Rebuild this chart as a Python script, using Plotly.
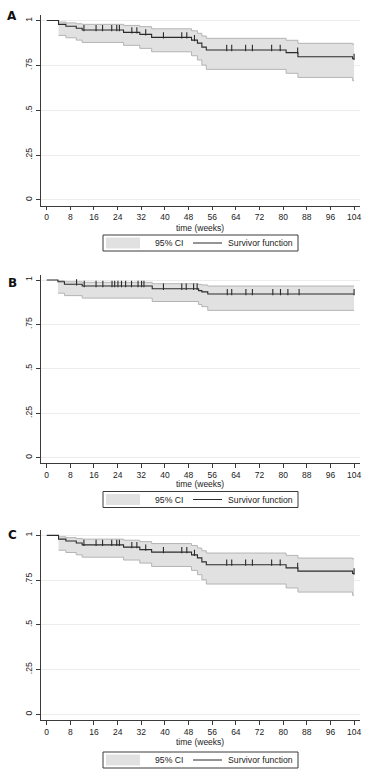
import plotly.graph_objects as go

W, H = 368, 777

# ---------------- data ----------------
END_TIME = 104

# Panel A
A_event_times = [4, 6.5, 10, 12, 26, 31.5, 35.5, 49, 51, 52.5, 54, 81, 85, 103.5]
A_surv = [0.979, 0.968, 0.957, 0.947, 0.934, 0.923, 0.906, 0.891, 0.874, 0.852, 0.836, 0.821, 0.798, 0.787]
A_upper = [0.992, 0.987, 0.982, 0.979, 0.973, 0.966, 0.954, 0.943, 0.929, 0.914, 0.901, 0.890, 0.873, 0.868]
A_lower = [0.917, 0.904, 0.891, 0.878, 0.862, 0.845, 0.826, 0.804, 0.780, 0.752, 0.728, 0.706, 0.683, 0.665]
A_censored = [12.6, 16.7, 18.9, 22.0, 23.7, 24.6, 28.8, 30.5, 33.5, 39.5, 45.7, 47.4, 50,
              60.9, 62.6, 67.3, 69.6, 76.1, 79.0, 84.9, 104]

# Panel B
B_event_times = [3.8, 6, 12, 35.7, 51.4, 52.5, 54.5]
B_surv = [0.990, 0.976, 0.9665, 0.951, 0.940, 0.933, 0.921]
B_upper = [0.996, 0.990, 0.987, 0.979, 0.975, 0.972, 0.966]
B_lower = [0.926, 0.912, 0.898, 0.879, 0.862, 0.850, 0.829]
B_censored = [10.1, 12.7, 16.7, 19.0, 22.1, 23.0, 24.1, 25.3, 26.7, 28.7, 30.9, 32.1, 32.9,
              39.5, 45.7, 47.2, 49.7, 50.9, 61.1, 62.6, 67.4, 69.6, 76.5, 79.1, 81.6, 85.4, 104]

# Panel C
C_event_times = [4, 6.5, 10, 12, 26, 31.5, 35.5, 49, 51, 52.5, 54, 81, 85, 103.5]
C_surv = [0.979, 0.968, 0.957, 0.947, 0.934, 0.920, 0.906, 0.891, 0.874, 0.852, 0.836, 0.818, 0.800, 0.787]
C_upper = [0.992, 0.987, 0.982, 0.979, 0.973, 0.965, 0.954, 0.943, 0.929, 0.914, 0.901, 0.888, 0.873, 0.868]
C_lower = [0.917, 0.904, 0.891, 0.878, 0.862, 0.845, 0.826, 0.804, 0.780, 0.752, 0.728, 0.706, 0.683, 0.665]
C_censored = [12.6, 16.7, 18.9, 22.0, 23.7, 24.6, 28.8, 30.5, 33.5, 39.5, 45.7, 47.4, 50,
              60.9, 62.6, 67.3, 69.6, 76.1, 79.0, 84.9, 104]

x_ticks = list(range(0, 105, 8))
y_ticks = [0, 0.25, 0.5, 0.75, 1]
y_ticktext = ["0", ".25", ".5", ".75", "1"]
panel_labels = ["A", "B", "C"]
legend_labels = ["95% CI", "Survivor function"]
x_title = "time (weeks)"

panels = [
    (A_event_times, A_surv, A_upper, A_lower, A_censored),
    (B_event_times, B_surv, B_upper, B_lower, B_censored),
    (C_event_times, C_surv, C_upper, C_lower, C_censored),
]

# ---------------- layout geometry (pixels) ----------------
FONT = "Liberation Sans, Arial, sans-serif"
AX_COL = "#3a3a3a"
LINE_COL = "#2b2b2b"
CI_FILL = "#e1e1e1"
CI_EDGE = "#b4b4b4"
GRID_COL = "#ececec"

x_left_px, x_right_px = 40.7, 360
# (top px of y axis, bottom px = x axis line)
panel_px = [(15, 205.7), (274.5, 463.3), (529.8, 720)]
title_px = [228, 484, 741.5]
legend_px = [(235, 251), (491.5, 507.5), (752, 768)]
label_px = [15.5, 283, 535]


def py(px):
    return 1 - px / H


def px_x(px):
    return px / W


def surv_at(t, times, surv):
    s = 1.0
    for tt, ss in zip(times, surv):
        if tt <= t:
            s = ss
    return s


fig = go.Figure()
shapes = []
annotations = []

for i, (times, surv, upper, lower, cens) in enumerate(panels):
    sfx = "" if i == 0 else str(i + 1)
    xa, ya = "x" + sfx, "y" + sfx

    ci_x = times + [END_TIME]
    fig.add_trace(go.Scatter(x=ci_x, y=lower + [lower[-1]], mode="lines",
                             line=dict(color=CI_EDGE, width=1, shape="hv"),
                             showlegend=False, hoverinfo="skip", xaxis=xa, yaxis=ya))
    fig.add_trace(go.Scatter(x=ci_x, y=upper + [upper[-1]], mode="lines",
                             line=dict(color=CI_EDGE, width=1, shape="hv"),
                             fill="tonexty", fillcolor=CI_FILL,
                             showlegend=False, hoverinfo="skip", xaxis=xa, yaxis=ya))
    fig.add_trace(go.Scatter(x=[0] + times + [END_TIME], y=[1.0] + surv + [surv[-1]],
                             mode="lines", line=dict(color=LINE_COL, width=1.1, shape="hv"),
                             showlegend=False, xaxis=xa, yaxis=ya))
    cy = [surv_at(t, times, surv) + 0.011 for t in cens]
    fig.add_trace(go.Scatter(x=cens, y=cy, mode="markers",
                             marker=dict(symbol="line-ns", size=4.5,
                                         line=dict(color=LINE_COL, width=1.1)),
                             showlegend=False, xaxis=xa, yaxis=ya))

    top, bot = panel_px[i]
    xkey = "xaxis" + sfx
    ykey = "yaxis" + sfx
    fig.update_layout(**{
        xkey: dict(domain=[px_x(x_left_px), px_x(x_right_px)], range=[-2.03, 106.0],
                   anchor=ya, tickvals=x_ticks, ticks="outside", ticklen=3.5,
                   tickcolor=AX_COL, showline=True, linecolor=AX_COL, linewidth=1,
                   showgrid=False, zeroline=False, ticklabeloverflow="allow",
                   tickfont=dict(family=FONT, size=8.5, color="#222")),
        ykey: dict(domain=[py(bot), py(top)], range=[-0.032, 1.031], anchor=xa,
                   tickvals=y_ticks, ticktext=y_ticktext, tickangle=-90,
                   ticks="outside", ticklen=4, tickcolor=AX_COL, showline=True,
                   linecolor=AX_COL, linewidth=1, showgrid=True, gridcolor=GRID_COL,
                   gridwidth=1, zeroline=False, ticklabeloverflow="allow",
                   tickfont=dict(family=FONT, size=8.6, color="#222")),
    })

    # axis title
    annotations.append(dict(text=x_title, xref="paper", yref="paper",
                            x=px_x((x_left_px + x_right_px) / 2), y=py(title_px[i]),
                            xanchor="center", yanchor="middle", showarrow=False,
                            font=dict(family=FONT, size=8.5, color="#222")))
    # panel label
    annotations.append(dict(text="<b>%s</b>" % panel_labels[i], xref="paper", yref="paper",
                            x=px_x(12), y=py(label_px[i]), xanchor="center",
                            yanchor="middle", showarrow=False,
                            font=dict(family="DejaVu Sans, sans-serif", size=12, color="#111")))

    # legend box
    lt, lb = legend_px[i]
    lc = (lt + lb) / 2
    shapes.append(dict(type="rect", xref="paper", yref="paper",
                       x0=px_x(103), x1=px_x(298), y0=py(lb), y1=py(lt),
                       line=dict(color=AX_COL, width=1), fillcolor="white"))
    shapes.append(dict(type="rect", xref="paper", yref="paper",
                       x0=px_x(106), x1=px_x(140), y0=py(lb - 2.5), y1=py(lt + 2.5),
                       line=dict(width=0), fillcolor=CI_FILL))
    shapes.append(dict(type="line", xref="paper", yref="paper",
                       x0=px_x(193), x1=px_x(222), y0=py(lc), y1=py(lc),
                       line=dict(color=LINE_COL, width=1)))
    annotations.append(dict(text=legend_labels[0], xref="paper", yref="paper",
                            x=px_x(153), y=py(lc), xanchor="left", yanchor="middle",
                            showarrow=False, font=dict(family=FONT, size=8.7, color="#222")))
    annotations.append(dict(text=legend_labels[1], xref="paper", yref="paper",
                            x=px_x(226), y=py(lc), xanchor="left", yanchor="middle",
                            showarrow=False, font=dict(family=FONT, size=8.7, color="#222")))

fig.update_layout(width=W, height=H, margin=dict(l=0, r=0, t=0, b=0),
                  paper_bgcolor="white", plot_bgcolor="white", showlegend=False,
                  shapes=shapes, annotations=annotations)

fig.write_html("out.html", config={"displayModeBar": False, "staticPlot": True},
               post_script="document.body.style.margin='0';document.body.style.padding='0';")
